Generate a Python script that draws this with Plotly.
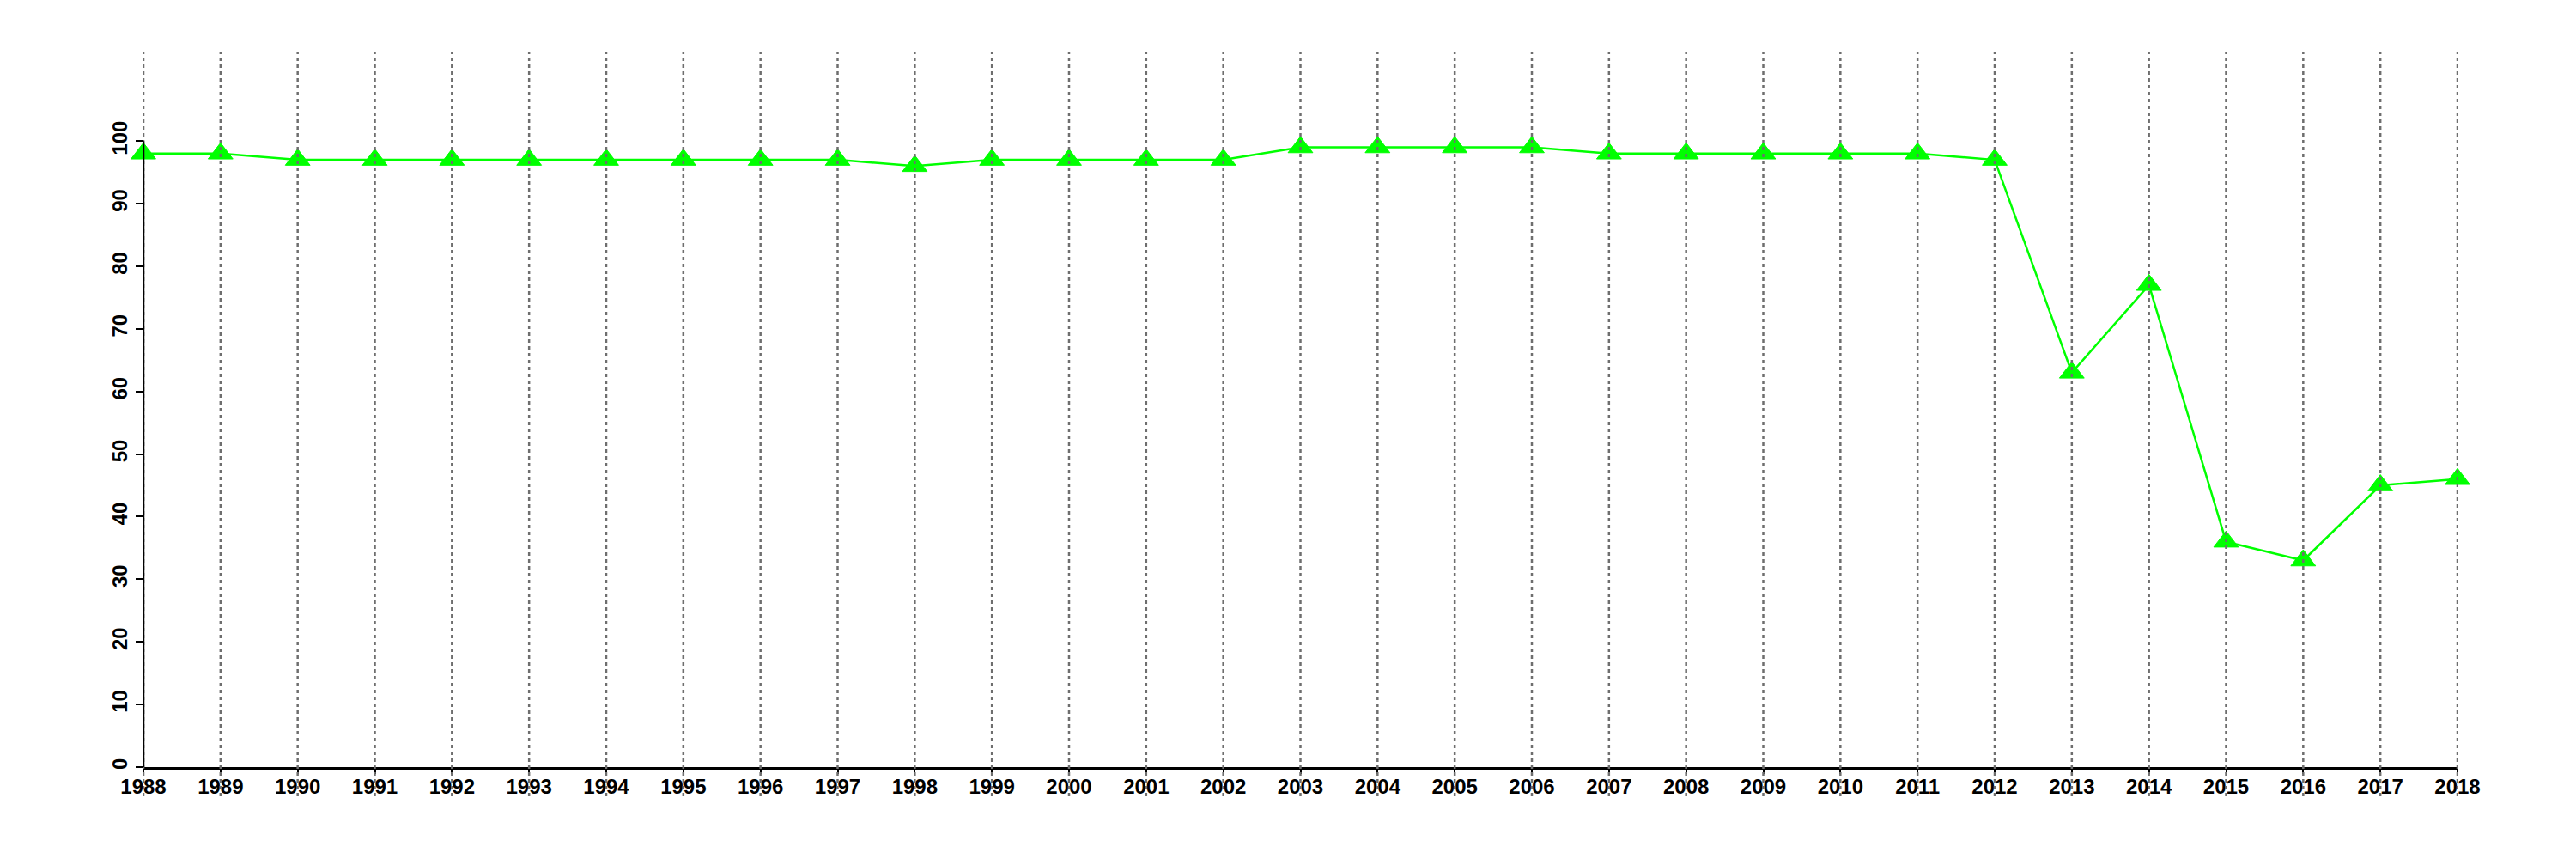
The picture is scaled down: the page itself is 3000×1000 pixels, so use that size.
import plotly.graph_objects as go

years = list(range(1988, 2019))
values = [98, 98, 97, 97, 97, 97, 97, 97, 97, 97, 96, 97, 97, 97, 97,
          99, 99, 99, 99, 98, 98, 98, 98, 98, 97, 63, 77, 36, 33, 45, 46]
y_ticks = list(range(0, 101, 10))

W, H = 3000, 1000
# page body adds an 8px offset; margins compensate
ml, mr, mt, mb = 159, 146, 52, 115
plot_h = H - mt - mb
y_top = 114.3

fig = go.Figure()
fig.add_trace(go.Scatter(
    x=years, y=values, mode="lines+markers",
    line=dict(color="#00ff00", width=2.5),
    marker=dict(symbol="triangle-up", size=25, color="#00ff00",
                line=dict(width=1, color="#00ff00")),
    cliponaxis=False, showlegend=False, hoverinfo="x+y",
))

shapes = []
for yr in years:
    shapes.append(dict(type="line", xref="x", yref="paper", x0=yr, x1=yr,
                       y0=-34 / plot_h, y1=1,
                       line=dict(color="#6e6e6e", width=2.5, dash="4px,4px"),
                       layer="above"))
shapes.append(dict(type="line", xref="x", yref="y", x0=years[0], x1=years[0],
                   y0=y_ticks[0], y1=y_ticks[-1],
                   line=dict(color="black", width=2.5), layer="above"))

font = dict(family="Liberation Sans, Arial, sans-serif", size=24, color="black", weight="bold")

fig.update_layout(
    width=W, height=H,
    margin=dict(l=ml, r=mr, t=mt, b=mb, pad=0, autoexpand=False),
    paper_bgcolor="white", plot_bgcolor="white",
    shapes=shapes,
    xaxis=dict(range=[years[0], years[-1]], tickmode="array", tickvals=years,
               ticktext=[str(y) for y in years], showgrid=False, zeroline=False,
               showline=True, linecolor="black", linewidth=2.5, automargin=False,
               ticks="outside", ticklen=5, tickwidth=2, tickcolor="black",
               tickfont=font, tickangle=0, ticklabelstandoff=-6),
    yaxis=dict(range=[0, y_top], tickmode="array", tickvals=y_ticks,
               ticktext=[str(v) for v in y_ticks], showgrid=False, zeroline=False,
               showline=False, automargin=False, ticks="outside", ticklen=8, tickwidth=2,
               tickcolor="black", tickfont=font, tickangle=-90),
)

fig.write_html("out.html")
